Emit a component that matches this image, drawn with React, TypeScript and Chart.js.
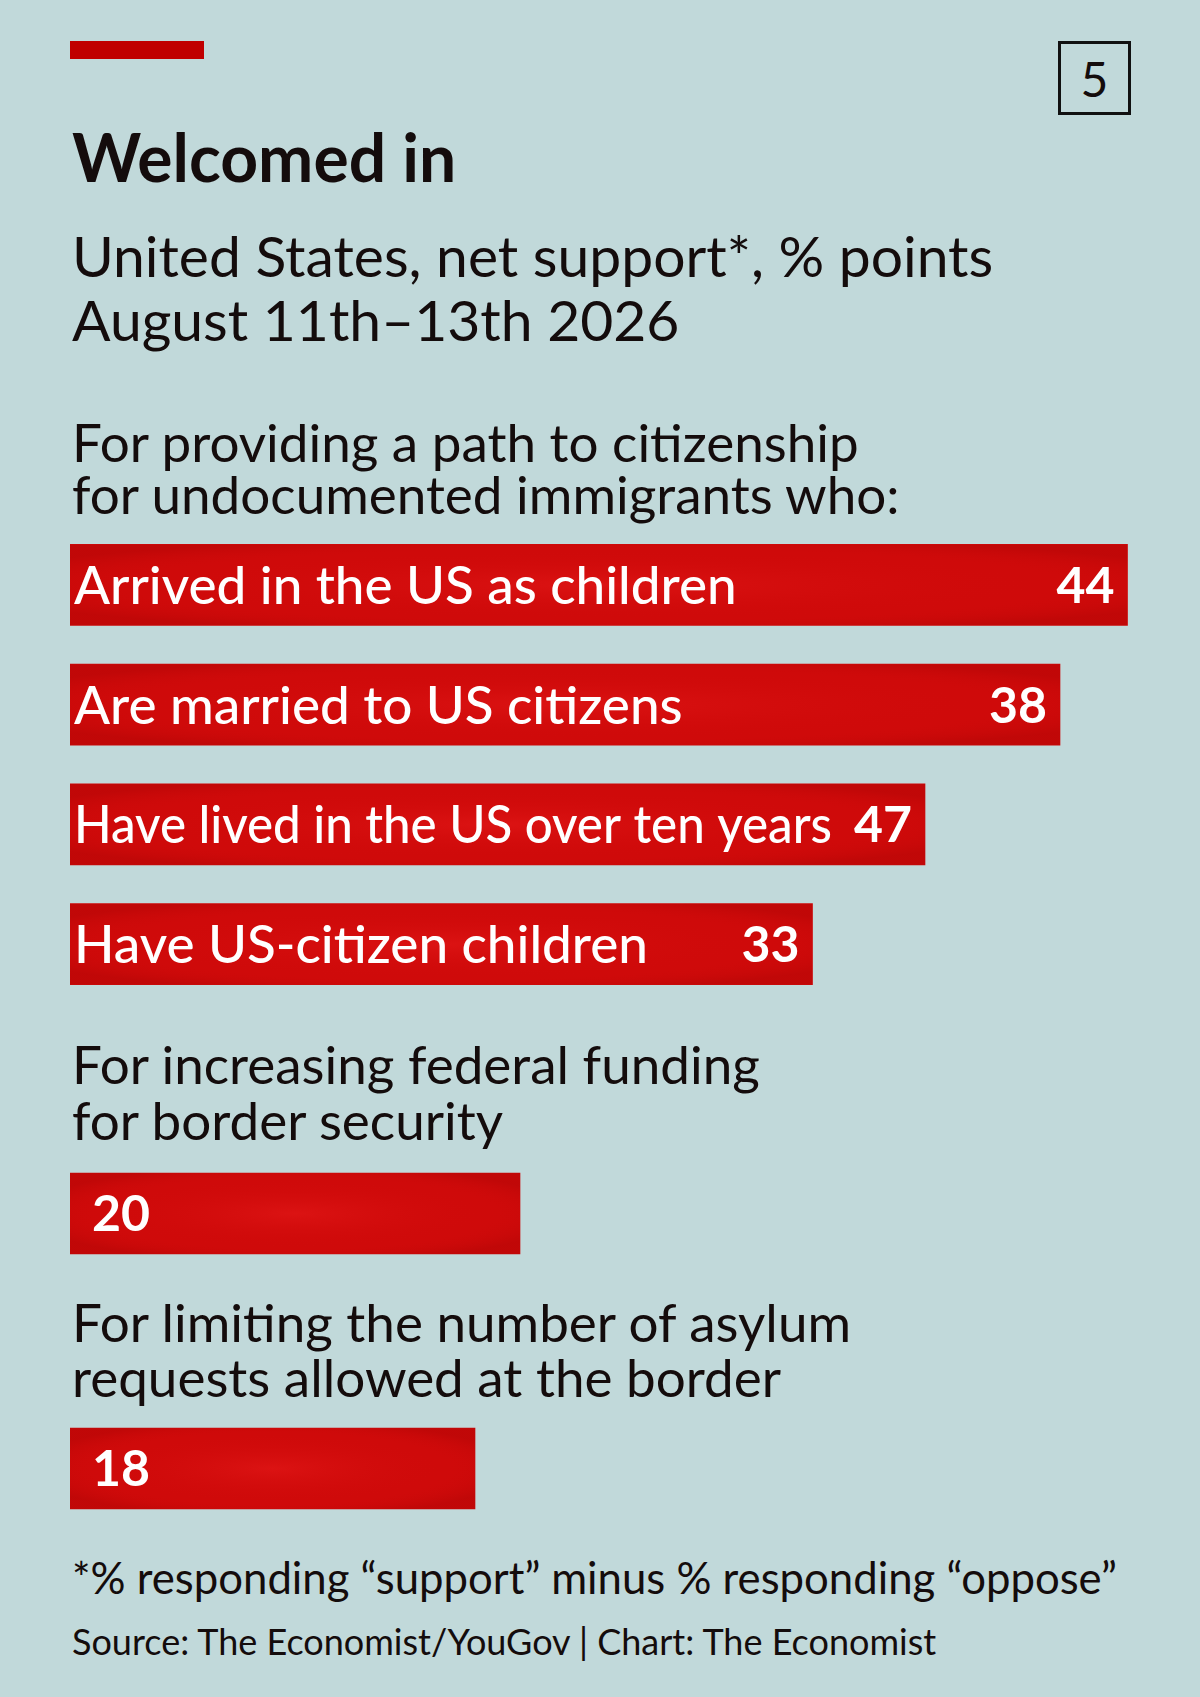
import { useEffect, useRef } from "react";
import { Chart, registerables } from "chart.js";

Chart.register(...registerables);

// Path-to-citizenship group. Bar lengths are read from the drawn bars,
// the printed numbers are read from the labels (they don't line up in the original).
const pathCategories = [
  "Arrived in the US as children",
  "Are married to US citizens",
  "Have lived in the US over ten years",
  "Have US-citizen children",
];
const pathBarValues = [47, 44, 38, 33];
const pathPrintedValues = ["44", "38", "47", "33"];

const borderCategories = ["For increasing federal funding for border security"];
const borderValues = [20];
const borderPrintedValues = ["20"];

const asylumCategories = ["For limiting the number of asylum requests allowed at the border"];
const asylumValues = [18];
const asylumPrintedValues = ["18"];

const BG = "#c1d9da";
const RED = "#cf0a0a";
const INK = "#140c0c";
const FONT = "Lato, 'Noto Sans', sans-serif";
const X_MAX = 50; // 22.5px per point on a 1125px wide canvas

const barLabelPlugin = {
  id: "barLabels",
  afterDatasetsDraw(chart: any, _args: any, opts: any) {
    const { ctx } = chart;
    const meta = chart.getDatasetMeta(0);
    meta.data.forEach((bar: any, i: number) => {
      const { x, y, base, height } = bar.getProps(["x", "y", "base", "height"], true);
      const w = x - base;
      // soft highlight in the middle of each bar
      ctx.save();
      ctx.beginPath();
      ctx.rect(base, y - height / 2, w, height);
      ctx.clip();
      ctx.translate(base + w / 2, y);
      ctx.scale(w / 2, height / 2);
      const g = ctx.createRadialGradient(0, 0, 0, 0, 0, 1.2);
      g.addColorStop(0, "rgba(235,30,30,0.45)");
      g.addColorStop(0.7, "rgba(210,10,10,0)");
      g.addColorStop(1, "rgba(150,0,0,0.25)");
      ctx.fillStyle = g;
      ctx.fillRect(-1, -1, 2, 2);
      ctx.restore();

      ctx.save();
      ctx.fillStyle = "#ffffff";
      ctx.textBaseline = "alphabetic";
      const baseLine = y + (opts.valueSize * 0.717) / 2;
      ctx.font = `700 ${opts.valueSize}px ${FONT}`;
      const valueText = opts.values[i];
      const valueWidth = ctx.measureText(valueText).width;
      if (opts.valueAt === "end") {
        ctx.textAlign = "right";
        ctx.fillText(valueText, x - 13, baseLine);
      } else {
        ctx.textAlign = "left";
        ctx.fillText(valueText, base + 22, baseLine);
      }
      if (opts.showNames) {
        ctx.font = `500 ${opts.nameSize}px ${FONT}`;
        ctx.textAlign = "left";
        const nameBase = y + (opts.nameSize * 0.717) / 2;
        const room = x - 13 - valueWidth - 22 - (base + 4);
        ctx.fillText(chart.data.labels[i], base + 4, nameBase, room);
      }
      ctx.restore();
    });
  },
};

interface BarGroupProps {
  top: number;
  height: number;
  labels: string[];
  values: number[];
  printed: string[];
  showNames: boolean;
  valueAt: "end" | "start";
}

function BarGroup({ top, height, labels, values, printed, showNames, valueAt }: BarGroupProps) {
  const ref = useRef<HTMLCanvasElement>(null);

  useEffect(() => {
    if (!ref.current) return;
    const chart = new Chart(ref.current, {
      type: "bar",
      data: {
        labels,
        datasets: [
          {
            data: values,
            backgroundColor: RED,
            borderWidth: 0,
            barThickness: 81,
          },
        ],
      },
      options: {
        indexAxis: "y",
        responsive: false,
        animation: false,
        layout: { padding: 0 },
        scales: {
          x: { min: 0, max: X_MAX, display: false },
          y: { display: false },
        },
        plugins: {
          legend: { display: false },
          tooltip: { enabled: false },
          barLabels: { values: printed, showNames, valueAt, valueSize: 50, nameSize: 53 },
        } as any,
      },
      plugins: [barLabelPlugin],
    });
    return () => chart.destroy();
  }, []);

  return (
    <canvas
      ref={ref}
      width={1125}
      height={height}
      style={{ position: "absolute", left: 70, top }}
    />
  );
}

// text block positioned by the baseline of its first line
function Text({
  baseline,
  size,
  lh,
  weight = 400,
  children,
}: {
  baseline: number;
  size: number;
  lh: number;
  weight?: number;
  children: any;
}) {
  const top = baseline - (lh / 2 + 0.387 * size);
  return (
    <div
      style={{
        position: "absolute",
        left: 72,
        top,
        fontSize: size,
        lineHeight: `${lh}px`,
        fontWeight: weight,
        color: INK,
        whiteSpace: "nowrap",
      }}
    >
      {children}
    </div>
  );
}

export default function App() {
  return (
    <div
      style={{
        position: "absolute",
        left: 0,
        top: 0,
        width: 1200,
        height: 1697,
        background: BG,
        fontFamily: FONT,
        overflow: "hidden",
      }}
    >
      <div style={{ position: "absolute", left: 70, top: 41, width: 134, height: 18, background: "#c00000" }} />
      <div
        style={{
          position: "absolute",
          left: 1058,
          top: 41,
          width: 73,
          height: 74,
          boxSizing: "border-box",
          border: "3px solid #111",
          display: "flex",
          alignItems: "center",
          justifyContent: "center",
          fontSize: 48,
          fontWeight: 400,
          color: INK,
        }}
      >
        5
      </div>

      <Text baseline={183} size={66} lh={66} weight={700}>
        Welcomed in
      </Text>
      <Text baseline={277} size={57} lh={64} weight={400}>
        United States, net support*, % points
        <br />
        August 11th–13th 2026
      </Text>

      <Text baseline={463} size={53} lh={52}>
        For providing a path to citizenship
        <br />
        for undocumented immigrants who:
      </Text>
      <BarGroup
        top={525}
        height={479}
        labels={pathCategories}
        values={pathBarValues}
        printed={pathPrintedValues}
        showNames
        valueAt="end"
      />

      <Text baseline={1085} size={53} lh={56}>
        For increasing federal funding
        <br />
        for border security
      </Text>
      <BarGroup
        top={1153}
        height={121}
        labels={borderCategories}
        values={borderValues}
        printed={borderPrintedValues}
        showNames={false}
        valueAt="start"
      />

      <Text baseline={1342} size={53} lh={55}>
        For limiting the number of asylum
        <br />
        requests allowed at the border
      </Text>
      <BarGroup
        top={1408}
        height={121}
        labels={asylumCategories}
        values={asylumValues}
        printed={asylumPrintedValues}
        showNames={false}
        valueAt="start"
      />

      <Text baseline={1594} size={43.7} lh={44}>
        *% responding “support” minus % responding “oppose”
      </Text>
      <Text baseline={1655} size={36} lh={36}>
        Source: The Economist/YouGov | Chart: The Economist
      </Text>
    </div>
  );
}
